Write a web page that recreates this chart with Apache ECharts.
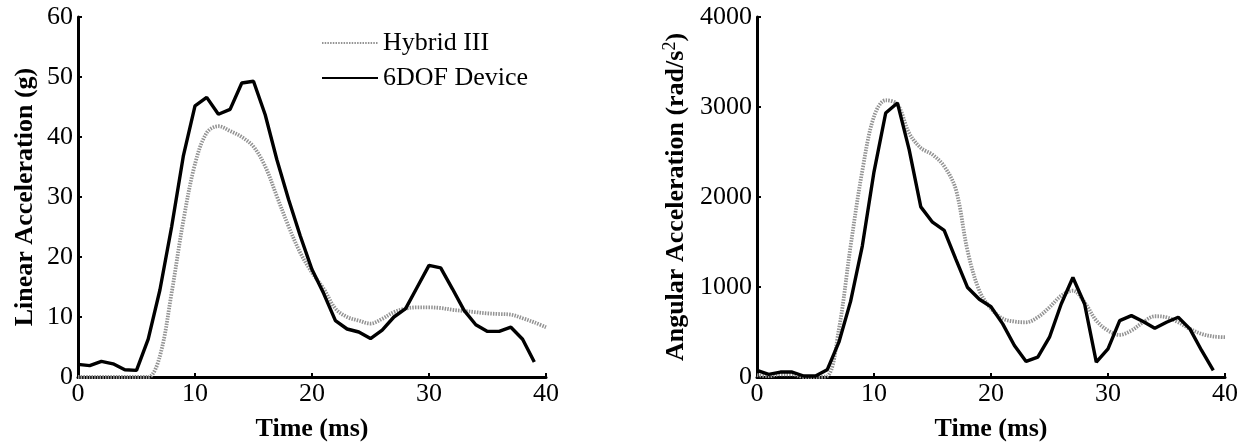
<!DOCTYPE html>
<html>
<head>
<meta charset="utf-8">
<script src="https://cdn.jsdelivr.net/npm/echarts@6/dist/echarts.min.js"></script>
<style>
html,body{margin:0;padding:0;background:#fff;}
#c{width:1247px;height:447px;}
</style>
</head>
<body>
<div id="c"></div>
<script>
// Tick values
var xTicks = [0, 10, 20, 30, 40];
var linTicks = [0, 10, 20, 30, 40, 50, 60];
var angTicks = [0, 1000, 2000, 3000, 4000];

// Left chart: Linear Acceleration (g)
var linTimeDevice = [0,1,2,3,4,5,6,7,8,9,10,11,12,13,14,15,16,17,18,19,20,21,22,23,24,25,26,27,28,29,30,31,32,33,34,35,36,37,38,39];
var linDevice = [2.1,1.9,2.6,2.2,1.2,1.1,6.3,14.5,25,36.8,45.2,46.6,43.8,44.6,49.0,49.3,43.7,36.2,29.6,23.5,17.9,13.9,9.4,8.0,7.5,6.4,7.8,10.0,11.4,15.0,18.6,18.2,14.7,11.1,8.7,7.6,7.6,8.3,6.3,2.5];
var linTimeHybrid = [0,1,2,3,4,5,6,7,8,9,10,11,12,13,14,15,16,17,18,19,20,21,22,23,24,25,26,27,28,29,30,31,32,33,34,35,36,37,38,39,40];
var linHybrid = [0,0,0,0,0,0,0,3.5,14,26,35.5,40.7,41.8,41.0,40.0,38.4,35.1,30.1,25.1,20.7,17.4,14.7,11.4,10.0,9.4,8.9,9.7,10.8,11.4,11.6,11.6,11.5,11.2,11.0,10.8,10.6,10.5,10.4,9.8,9.1,8.3];

// Right chart: Angular Acceleration (rad/s^2)
var angTimeDevice = [0,1,2,3,4,5,6,7,8,9,10,11,12,13,14,15,16,17,18,19,20,21,22,23,24,25,26,27,28,29,30,31,32,33,34,35,36,37,38,39];
var angDevice = [74,30,55,55,11,11,80,387,840,1455,2280,2933,3045,2530,1890,1720,1630,1307,994,864,780,590,350,173,221,442,811,1106,811,166,313,627,682,616,542,608,664,535,295,74];
var angTimeHybrid = [0,1,2,3,4,5,6,7,8,9,10,11,12,13,14,15,16,17,18,19,20,21,22,23,24,25,26,27,28,29,30,31,32,33,34,35,36,37,38,39,40];
var angHybrid = [20,10,30,30,0,0,10,530,1455,2290,2895,3075,3030,2711,2545,2471,2341,2083,1400,960,760,650,616,608,664,774,903,959,829,627,516,468,516,608,675,664,608,535,479,450,442];

var seriesNames = ['Hybrid III', '6DOF Device'];

function pairs(t, v) { return t.map(function (x, i) { return [x, v[i]]; }); }

var FONT = 'Liberation Serif';
var FS = 26;
var hybridStyle = { color: '#939393', width: 3.8, type: [1.5, 1.2] };
var deviceStyle = { color: '#000', width: 3.4, type: 'solid' };

function xAx(idx) {
  return {
    type: 'value', gridIndex: idx, min: xTicks[0], max: xTicks[xTicks.length - 1], interval: 10,
    name: 'Time (ms)', nameLocation: 'middle', nameGap: 39,
    nameTextStyle: { fontFamily: FONT, fontWeight: 'bold', fontSize: FS, color: '#000' },
    axisLine: { lineStyle: { color: '#000', width: 3 } },
    axisTick: { inside: true, length: 4, lineStyle: { color: '#000', width: 2 } },
    axisLabel: { fontFamily: FONT, fontSize: FS, color: '#000', margin: 4, formatter: function (v) { return String(v); } },
    splitLine: { show: false }
  };
}
function yAx(idx, ticks, name, gap) {
  return {
    type: 'value', gridIndex: idx, min: ticks[0], max: ticks[ticks.length - 1], interval: ticks[1] - ticks[0],
    name: name, nameLocation: 'middle', nameGap: gap,
    nameTextStyle: {
      fontFamily: FONT, fontWeight: 'bold', fontSize: FS, color: '#000',
      rich: { sup: { fontFamily: FONT, fontWeight: 'normal', fontSize: 18, color: '#000', verticalAlign: 'top', lineHeight: 30 } }
    },
    axisLine: { show: true, lineStyle: { color: '#000', width: 3 } },
    axisTick: { show: true, inside: true, length: 4, lineStyle: { color: '#000', width: 2 } },
    axisLabel: { fontFamily: FONT, fontSize: FS, color: '#000', margin: 5, formatter: function (v) { return String(v); } },
    splitLine: { show: false }
  };
}

var chart = echarts.init(document.getElementById('c'), null, { renderer: 'canvas' });
chart.setOption({
  animation: false,
  backgroundColor: '#fff',
  legend: {
    data: seriesNames,
    orient: 'vertical',
    left: 321, top: 30, padding: 0,
    itemWidth: 56, itemHeight: 14, itemGap: 9,
    itemStyle: { opacity: 0 },
    textStyle: { fontFamily: FONT, fontSize: FS, color: '#000' }
  },
  grid: [
    { left: 78, top: 17, width: 468, height: 361 },
    { left: 757, top: 17, width: 468, height: 361 }
  ],
  xAxis: [xAx(0), xAx(1)],
  yAxis: [
    yAx(0, linTicks, 'Linear Acceleration (g)', 40),
    yAx(1, angTicks, 'Angular Acceleration (rad/s{sup|2})', 66)
  ],
  series: [
    { name: seriesNames[0], type: 'line', xAxisIndex: 0, yAxisIndex: 0, data: pairs(linTimeHybrid, linHybrid), showSymbol: false, symbol: 'none', smooth: 0.35, lineStyle: hybridStyle, itemStyle: { color: hybridStyle.color }, z: 2 },
    { name: seriesNames[1], type: 'line', xAxisIndex: 0, yAxisIndex: 0, data: pairs(linTimeDevice, linDevice), showSymbol: false, symbol: 'none', lineStyle: deviceStyle, itemStyle: { color: '#000' }, z: 3 },
    { name: seriesNames[0], type: 'line', xAxisIndex: 1, yAxisIndex: 1, data: pairs(angTimeHybrid, angHybrid), showSymbol: false, symbol: 'none', smooth: 0.35, lineStyle: hybridStyle, itemStyle: { color: hybridStyle.color }, z: 2 },
    { name: seriesNames[1], type: 'line', xAxisIndex: 1, yAxisIndex: 1, data: pairs(angTimeDevice, angDevice), showSymbol: false, symbol: 'none', lineStyle: deviceStyle, itemStyle: { color: '#000' }, z: 3 }
  ]
});
</script>
</body>
</html>
